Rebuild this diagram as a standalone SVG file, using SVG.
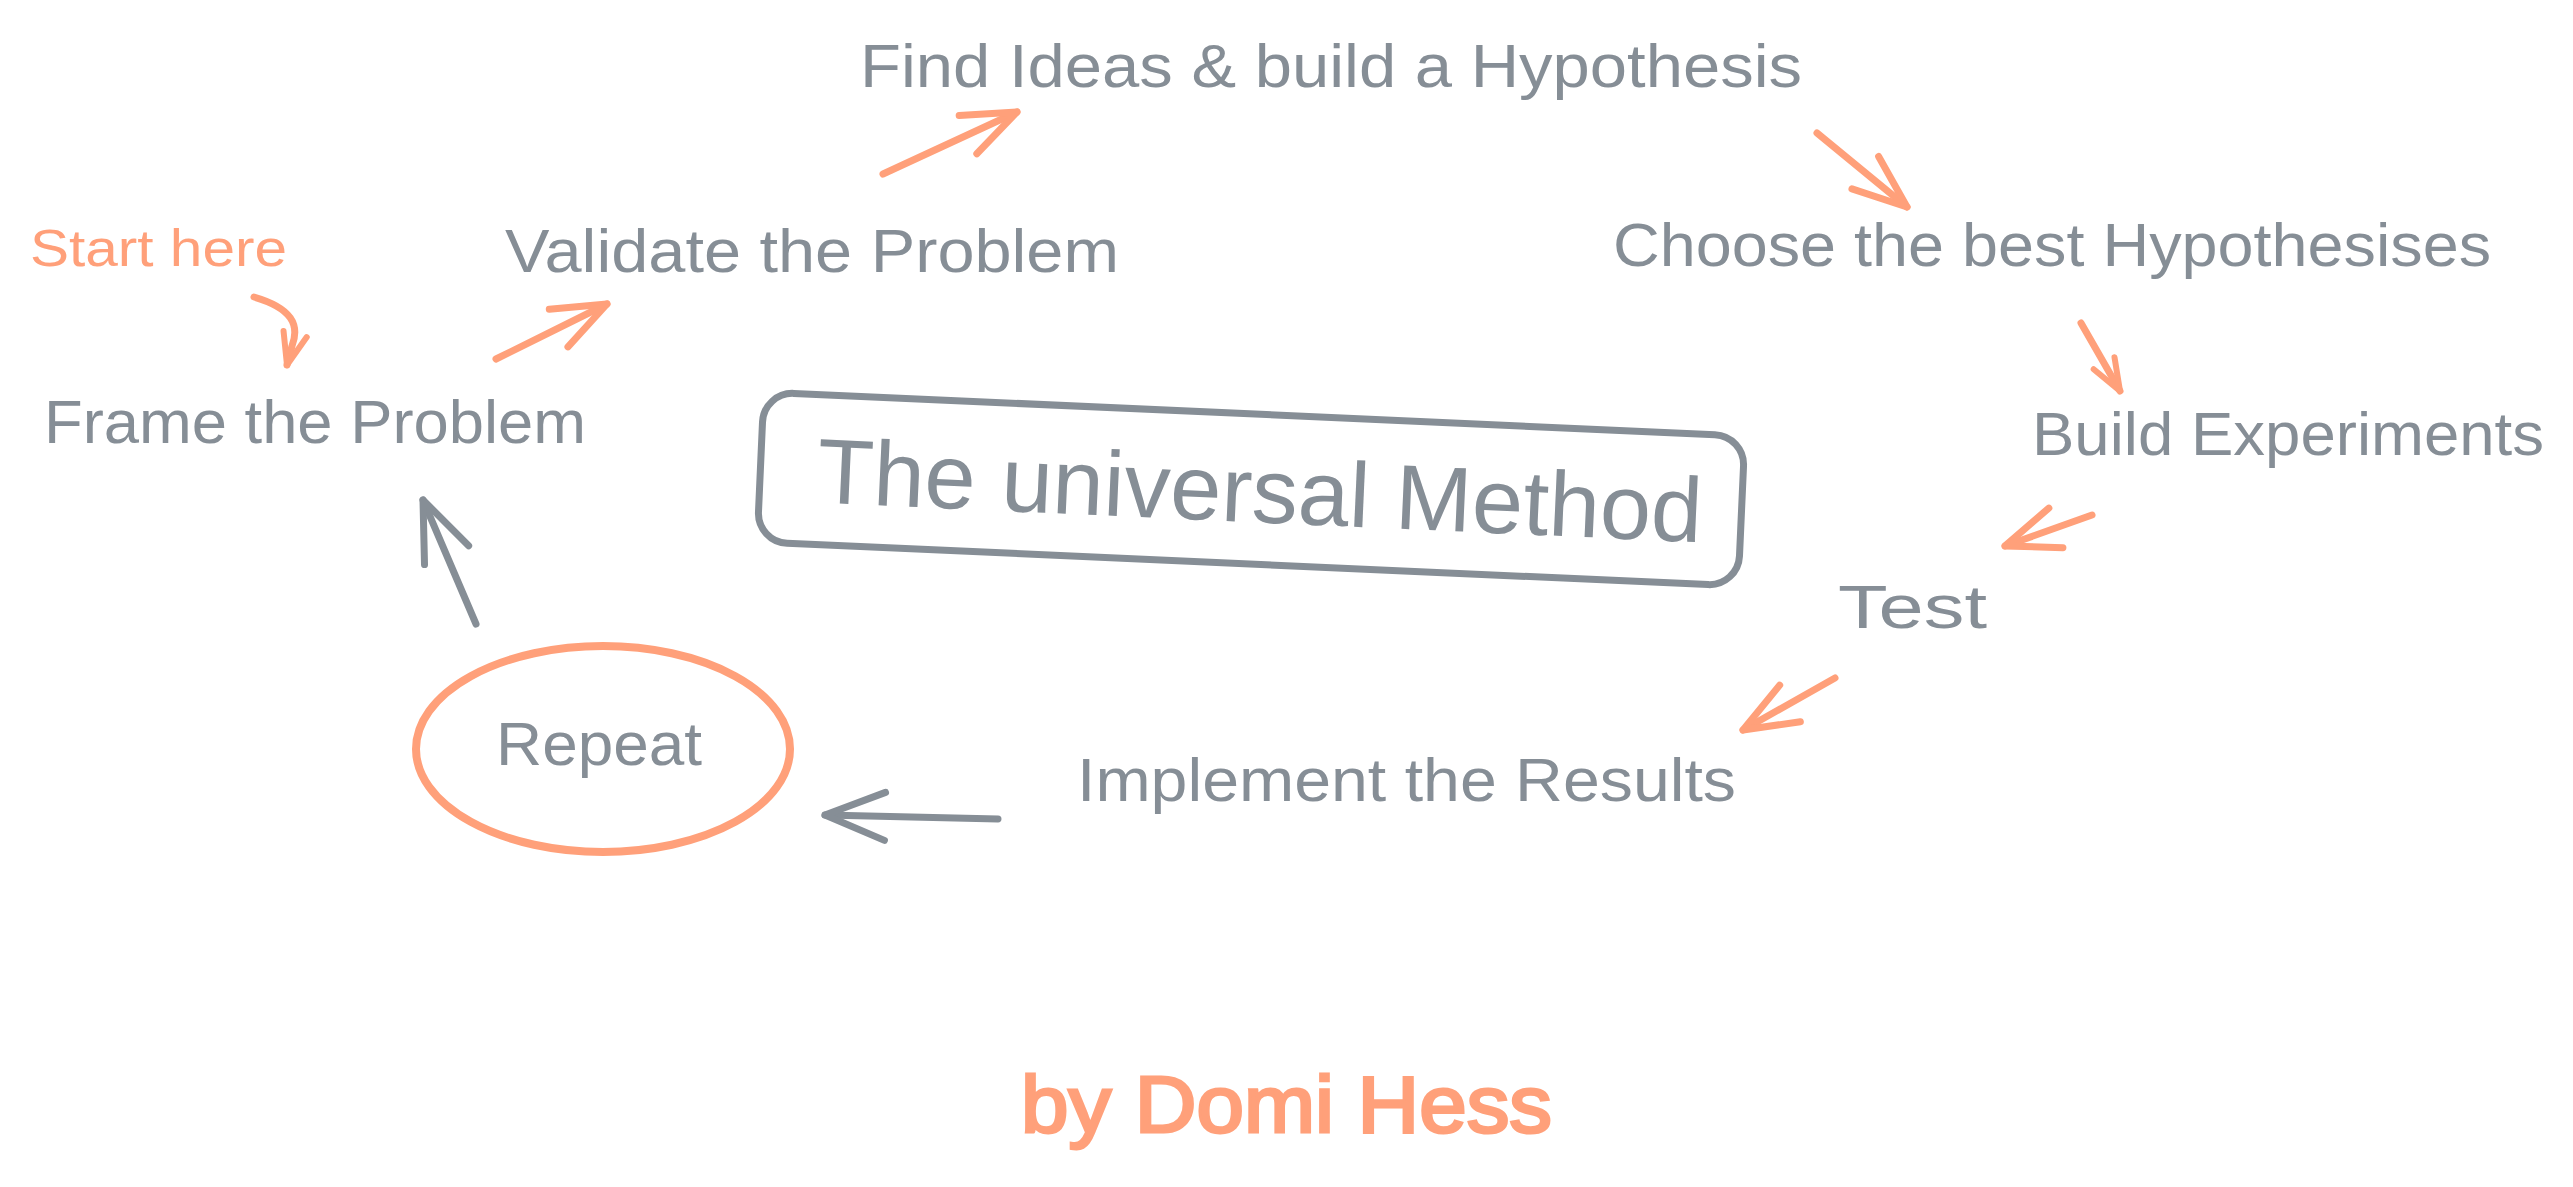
<svg xmlns="http://www.w3.org/2000/svg" width="2573" height="1187" viewBox="0 0 2573 1187">
<defs>
<style>
.t{font-family:"Liberation Sans","Noto Sans",sans-serif;fill:#868e96}
.l{font-size:62px}
.s{font-size:52px}
.ti{font-size:92px}
.au{font-size:80px;stroke:#ffa07a;stroke-width:3px}
.o{fill:#ffa07a}
.ls{fill:none;stroke-linecap:round;stroke-linejoin:round}
.og{stroke:#ffa07a;stroke-width:7}
.gr{stroke:#868e96;stroke-width:7}
</style>
<marker id="ho" markerUnits="userSpaceOnUse" orient="auto" refX="0" refY="0" markerWidth="70" markerHeight="70" viewBox="-65 -35 70 70" overflow="visible">
<path d="M-54,-21 L0,0 L-54,21" fill="none" stroke="#ffa07a" stroke-width="7" stroke-linecap="round" stroke-linejoin="round"/>
</marker>
<marker id="hos" markerUnits="userSpaceOnUse" orient="auto" refX="0" refY="0" markerWidth="50" markerHeight="50" viewBox="-40 -25 50 50" overflow="visible">
<path d="M-32,-12 L0,0 L-32,12" fill="none" stroke="#ffa07a" stroke-width="6" stroke-linecap="round" stroke-linejoin="round"/>
</marker>
<marker id="hg" markerUnits="userSpaceOnUse" orient="auto" refX="0" refY="0" markerWidth="80" markerHeight="80" viewBox="-70 -40 80 80" overflow="visible">
<path d="M-60,-24 L0,0 L-60,24" fill="none" stroke="#868e96" stroke-width="7" stroke-linecap="round" stroke-linejoin="round"/>
</marker>
</defs>
<rect width="2573" height="1187" fill="#ffffff"/>

<g id="connectors">
<path class="ls og" d="M254,297 C292,308 300,325 292,346 L287,365" marker-end="url(#hos)"/>
<path class="ls og" d="M496,359 L607,304" marker-end="url(#ho)"/>
<path class="ls og" d="M883,174 L1017,112" marker-end="url(#ho)"/>
<path class="ls og" d="M1817,133 L1907,207" marker-end="url(#ho)"/>
<path class="ls og" d="M2081,323 L2120,391" marker-end="url(#hos)"/>
<path class="ls og" d="M2092,515 L2005,546" marker-end="url(#ho)"/>
<path class="ls og" d="M1835,678 L1743,730" marker-end="url(#ho)"/>
<path class="ls gr" d="M998,819 L825,815" marker-end="url(#hg)"/>
<path class="ls gr" d="M476,624 L423,500" marker-end="url(#hg)"/>
</g>

<g id="start-here"><text class="t s o" x="30" y="266" textLength="257" lengthAdjust="spacingAndGlyphs">Start here</text></g>
<g id="frame"><text class="t l" x="44" y="443" textLength="542" lengthAdjust="spacingAndGlyphs">Frame the Problem</text></g>
<g id="validate"><text class="t l" x="505" y="272" textLength="614" lengthAdjust="spacingAndGlyphs">Validate the Problem</text></g>
<g id="find-ideas"><text class="t l" x="860" y="87" textLength="942" lengthAdjust="spacingAndGlyphs">Find Ideas &amp; build a Hypothesis</text></g>
<g id="choose"><text class="t l" x="1613" y="266" textLength="878" lengthAdjust="spacingAndGlyphs">Choose the best Hypothesises</text></g>
<g id="build"><text class="t l" x="2032" y="455" textLength="512" lengthAdjust="spacingAndGlyphs">Build Experiments</text></g>
<g id="test"><text class="t l" x="1838" y="628" textLength="149" lengthAdjust="spacingAndGlyphs">Test</text></g>
<g id="implement"><text class="t l" x="1077" y="801" textLength="659" lengthAdjust="spacingAndGlyphs">Implement the Results</text></g>
<g id="repeat">
<ellipse cx="603" cy="749" rx="187" ry="103" fill="none" stroke="#ffa07a" stroke-width="8"/>
<text class="t l" x="496" y="765" textLength="206" lengthAdjust="spacingAndGlyphs">Repeat</text>
</g>
<g id="title" transform="rotate(2.57 1251 489)">
<rect x="760" y="414" width="982" height="150" rx="30" fill="none" stroke="#868e96" stroke-width="7"/>
<text class="t ti" x="1260" y="522" text-anchor="middle" textLength="886" lengthAdjust="spacingAndGlyphs">The universal Method</text>
</g>
<g id="author"><text class="t au o" x="1021" y="1132" textLength="531" lengthAdjust="spacingAndGlyphs">by Domi Hess</text></g>
</svg>
